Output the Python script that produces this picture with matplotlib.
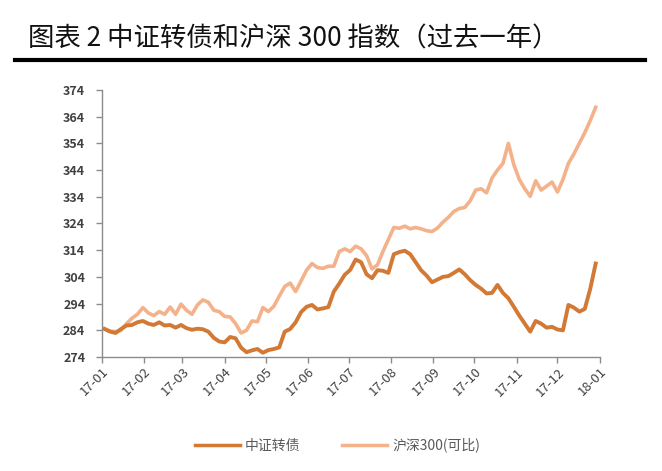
import matplotlib
matplotlib.use("Agg")
import matplotlib.pyplot as plt
import matplotlib.dates as mdates
import pandas as pd

plt.rcParams['font.family'] = ['Noto Sans CJK SC', 'DejaVu Sans']

TITLE = "图表 2 中证转债和沪深 300 指数（过去一年）"
NAME_CB = "中证转债"
NAME_HS = "沪深300(可比)"

# sample dates, every 4 days through 2017
dates = pd.date_range("2017-01-03", periods=91, freq="4D")

# 中证转债
cb = [284.5, 283.5, 283.0, 284.5, 285.8, 286.0, 287.0, 287.5, 286.5, 286.0,
      287.0, 285.8, 286.0, 285.0, 286.0, 284.8, 284.2, 284.6, 284.4, 283.5,
      281.2, 279.8, 279.5, 281.5, 281.0, 277.5, 275.8, 276.5, 277.0, 275.6,
      276.6, 277.0, 277.6, 283.5, 284.5, 287.0, 290.8, 292.8, 293.5, 291.8,
      292.2, 292.7, 298.5, 301.5, 304.8, 306.6, 310.5, 309.5, 305.0, 303.5,
      306.5, 306.3, 305.5, 312.5, 313.3, 313.8, 312.5, 309.5, 306.5, 304.5,
      302.0, 303.0, 304.0, 304.3, 305.5, 306.8, 305.0, 302.8, 301.0, 299.6,
      297.8, 298.0, 301.0, 298.0, 296.0, 292.8, 289.5, 286.5, 283.5, 287.5,
      286.5, 285.0, 285.3, 284.3, 284.0, 293.5, 292.5, 291.0, 292.0, 299.5,
      309.0]

# 沪深300(可比)
hs = [284.5, 283.7, 283.5, 284.0, 286.5, 288.5, 290.0, 292.5, 290.5, 289.5,
      291.0, 290.0, 292.7, 290.0, 293.8, 291.5, 290.0, 293.5, 295.4, 294.5,
      291.5, 291.0, 289.2, 289.0, 286.5, 283.0, 284.0, 287.5, 287.2, 292.5,
      291.0, 293.0, 296.8, 300.4, 301.7, 298.5, 302.5, 306.5, 309.0, 307.5,
      307.2, 308.0, 308.0, 313.5, 314.5, 313.5, 315.5, 314.5, 312.0, 307.0,
      308.5, 313.5, 318.0, 322.5, 322.2, 323.0, 322.0, 322.5, 322.0, 321.3,
      321.0, 322.3, 324.5, 326.3, 328.5, 329.6, 330.0, 332.5, 336.5, 337.0,
      335.5, 341.0, 344.0, 346.5, 354.0, 346.0, 340.5, 337.0, 334.2, 340.0,
      336.5, 338.0, 339.5, 335.8, 340.5, 346.5, 350.0, 354.0, 358.0, 362.5,
      367.5]

yticks = list(range(274, 375, 10))
xticks = pd.date_range("2017-01-01", "2018-01-01", freq="MS")

C_CB = "#D27A35"
C_HS = "#F3B28A"

fig = plt.figure(figsize=(6.62, 4.71), dpi=100)
fig.text(0.043, 0.918, TITLE, fontsize=19, color="#111111", va="center")
fig.add_artist(plt.Line2D([0.023, 0.975], [0.872, 0.872], color="black", lw=3))

ax = fig.add_axes([0.154, 0.242, 0.752, 0.567])
ax.plot(dates, hs, color=C_HS, lw=2.6, label=NAME_HS, zorder=2)
ax.plot(dates, cb, color=C_CB, lw=2.8, label=NAME_CB, zorder=3)

ax.set_ylim(274, 374)
ax.set_yticks(yticks)
ax.set_xlim(pd.Timestamp("2017-01-01"), pd.Timestamp("2018-01-01"))
ax.set_xticks(xticks)
ax.xaxis.set_major_formatter(mdates.DateFormatter("%y-%m"))

for s in ["top", "right"]:
    ax.spines[s].set_visible(False)
for s in ["left", "bottom"]:
    ax.spines[s].set_color("#8c8c8c")
    ax.spines[s].set_linewidth(1.0)
ax.tick_params(axis="both", color="#8c8c8c", length=4, width=1.0)
ax.tick_params(axis="y", labelsize=9, labelcolor="#404040", pad=8)
ax.tick_params(axis="x", labelsize=9.5, labelcolor="#404040", pad=2)
for lab in ax.get_yticklabels():
    lab.set_fontweight("bold")
plt.setp(ax.get_xticklabels(), rotation=45, ha="right", rotation_mode="anchor")

handles, labels = ax.get_legend_handles_labels()
leg = fig.legend(handles[::-1], labels[::-1], loc="center", ncol=2,
                 bbox_to_anchor=(0.51, 0.055), frameon=False, fontsize=10,
                 handlelength=3.2, columnspacing=3.0, handletextpad=0.4)
for t in leg.get_texts():
    t.set_color("#595959")
for h in leg.get_lines():
    h.set_linewidth(2.5)

fig.savefig("out.png", dpi=100)
